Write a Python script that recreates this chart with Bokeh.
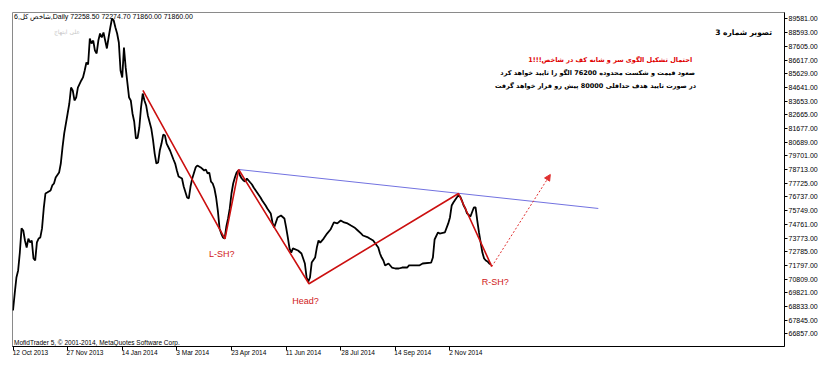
from bokeh.plotting import figure
from bokeh.models import Range1d, FixedTicker, PrintfTickFormatter, Label, Arrow, NormalHead, LinearAxis
from bokeh.embed import file_html
from bokeh.resources import INLINE

# ---- data (bar index = trading day since 12 Oct 2013) ----
bars = [0, 1, 2, 3, 4, 5, 6, 7, 8, 9, 10, 11, 12, 13, 14, 15, 16, 17, 18, 19, 20, 22, 23, 24, 25, 27, 28, 29, 30,
        32, 33, 34, 35, 36, 37, 38, 40, 41, 42, 43, 44, 45, 46, 47, 48, 49, 50, 51, 52, 53, 54, 55, 56, 57, 58, 59,
        60, 61, 62, 63, 64, 65, 66, 67, 68, 69, 70, 71, 72, 73, 74, 75, 76, 77, 78, 79, 81, 82, 83, 84, 85, 86, 87,
        88, 89, 90, 92, 94, 95, 96, 97, 99, 100, 102, 103, 104, 105, 107, 108, 110, 112, 113, 114, 115, 116, 117,
        118, 119, 120, 121, 122, 123, 124, 125, 126, 127, 128, 129, 130, 131, 132, 133, 134, 135, 136, 137, 139,
        140, 141, 143, 145, 146, 148, 149, 151, 152, 153, 154, 155, 157, 159, 160, 161, 162, 163, 164, 167, 169,
        170, 171, 172, 173, 174, 175, 177, 178, 179, 180, 182, 184, 186, 188, 190, 192, 194, 196, 198, 200, 202,
        204, 205, 208, 209, 211, 214, 215, 216, 217, 218, 220, 222, 224, 226, 228, 231, 232, 235, 238, 240, 245,
        246, 247, 249, 250, 253, 255, 256, 257, 258, 260, 261, 262, 263, 264, 265, 266, 268, 270, 271, 272, 273,
        274, 275, 276, 277, 278, 279, 280]
closes = [68550, 69780, 70930, 71440, 72730, 74470, 74320, 73600, 73090, 73740, 73460, 73600, 72300, 72160, 73460,
          73740, 73820, 74470, 75910, 76990, 77060, 77210, 77570, 77710, 78140, 78500, 79150, 80310, 81320,
          82760, 83480, 84630, 84420, 83700, 83910, 84630, 85140, 85360, 85860, 86440, 86290, 88170, 87810, 88020,
          87300, 87090, 88020, 88530, 88240, 88600, 88020, 87450, 88240, 88960, 89610, 89470,
          88960, 88530, 87880, 85860, 85360, 87520, 86080, 84990, 83910, 83700, 82760, 82180, 80960, 81000, 81750,
          83190, 84200, 83700, 83340, 82620, 81680, 80880, 79870, 79150, 79220, 80090, 80590,
          81240, 81170, 80590, 80090, 79440, 79150, 78650, 78210, 78070, 77490, 76700, 76630, 77490, 78070, 78870,
          79010, 78870, 78650, 78720, 78430, 78500, 77850, 77710,
          77350, 76700, 75760, 74470, 74100, 73820, 73740, 74610, 75190, 75910, 76990, 77710, 78140, 78500, 78650,
          78290, 78070, 77930, 77850, 78070, 77780,
          77640, 77420, 77060, 76700, 76480, 76120, 75910, 75550, 74900, 74540, 74900, 75260, 75400, 75190, 74540,
          73820, 73030, 72730, 73030, 72880, 72660,
          72300, 71940, 70930, 70640, 70930, 72010, 72370, 73090, 73600, 73450, 73740, 74100, 74390, 74900, 74830,
          75040, 74900, 74830, 74680, 74540, 74320,
          74100, 73960, 73820, 73740, 73600, 73090, 72660, 72370, 72160, 71800, 71940, 71650, 71580, 71580, 71650,
          71650, 71800, 71800, 71800, 71940, 72010,
          72370, 73670, 74180, 74100, 74180, 74830, 75260, 76120, 76340, 76700, 76850, 76770, 76480, 76120, 75910,
          75550, 75330, 75980, 75980, 75040, 74180,
          73450, 72730, 72300, 72160, 72090, 71940, 71860]

date_tick_bars = [0, 32, 64, 96, 128, 160, 192, 224, 256]
date_tick_labels = ["12 Oct 2013", "27 Nov 2013", "14 Jan 2014", "3 Mar 2014", "23 Apr 2014",
                    "11 Jun 2014", "28 Jul 2014", "14 Sep 2014", "2 Nov 2014"]
price_ticks = [66857, 67845, 68833, 69821, 70809, 71797, 72785, 73773, 74761, 75749, 76737, 77725,
               78713, 79701, 80689, 81677, 82665, 83653, 84641, 85629, 86617, 87605, 88593, 89581]

# head & shoulders drawing (red), neckline (blue), projected move (dotted red)
pattern_bars = [76.1, 124.2, 132.2, 173.4, 261.0, 280.5]
pattern_prices = [84420, 73720, 78720, 70480, 76990, 71720]
neck_bars = [132.2, 342.9]
neck_prices = [78720, 75910]
target_bars = [280.5, 314.8]
target_prices = [71720, 78360]

shape_labels = ["L-SH?", "Head?", "R-SH?"]
shape_label_bars = [122.3, 171.4, 282.6]
shape_label_prices = [72660, 69200, 70570]

header = "شاخص کل,6,Daily  72258.50 72274.70 71860.00 71860.00"
signature = "علی ابتهاج"
title_fa = "تصویر شماره 3"
note_red = "احتمال تشکیل الگوی سر و شانه کف در شاخص!!!1"
note_1 = "صعود قیمت و شکست محدوده 76200 الگو را تایید خواهد کرد"
note_2 = "در صورت تایید هدف حداقلی 80000 پیش رو قرار خواهد گرفت"
copyright_txt = "MofidTrader 5, © 2001-2014, MetaQuotes Software Corp."

# ---- figure ----
p = figure(width=820, height=367, output_backend="svg", toolbar_location=None,
           x_range=Range1d(-0.3, 452.0), y_range=Range1d(65954, 90043),
           x_axis_location=None, y_axis_location="right",
           min_border_left=12, min_border_top=12, min_border_right=35, min_border_bottom=21)
p.background_fill_color = "white"
p.border_fill_color = "white"
p.outline_line_color = "#8a8a8a"
p.grid.visible = False

# date axis: tick marks at the bar positions, labels starting at each tick
tick_axis = LinearAxis(ticker=FixedTicker(ticks=date_tick_bars),
                       major_label_overrides={b: "" for b in date_tick_bars},
                       major_label_text_font_size="1px", major_label_standoff=0,
                       major_tick_out=4, major_tick_in=0, minor_tick_line_color=None,
                       axis_line_color="black", major_tick_line_color="black")
p.add_layout(tick_axis, "below")
label_pos = [round(b + len(t) * 0.93, 1) for b, t in zip(date_tick_bars, date_tick_labels)]
label_axis = LinearAxis(ticker=FixedTicker(ticks=label_pos),
                        major_label_overrides={c: t for c, t in zip(label_pos, date_tick_labels)},
                        major_label_text_font="Liberation Sans", major_label_text_font_size="6.5px",
                        major_label_text_color="black", major_label_standoff=-2,
                        major_tick_line_color=None, minor_tick_line_color=None, axis_line_color=None,
                        major_tick_out=0, major_tick_in=0)
p.add_layout(label_axis, "below")

ya = p.yaxis[0]
ya.ticker = FixedTicker(ticks=price_ticks)
ya.formatter = PrintfTickFormatter(format="%.2f")
ya.major_label_text_font = "Liberation Sans"
ya.major_label_text_font_size = "7px"
ya.major_label_text_color = "black"
ya.major_label_standoff = 1
ya.major_tick_out = 3
ya.major_tick_in = 0
ya.minor_tick_line_color = None
ya.axis_line_color = "black"
ya.major_tick_line_color = "black"

p.line(bars, closes, line_color="black", line_width=1.8)
p.line(neck_bars, neck_prices, line_color="#7272e0", line_width=1)
p.line(pattern_bars, pattern_prices, line_color="#cc1010", line_width=1.6)
p.add_layout(Arrow(end=NormalHead(size=6, fill_color="#e03030", line_color="#e03030"),
                   x_start=target_bars[0], y_start=target_prices[0],
                   x_end=target_bars[1], y_end=target_prices[1],
                   line_color="#e03030", line_width=1, line_dash="2 2"))

for t, bx, py in zip(shape_labels, shape_label_bars, shape_label_prices):
    p.add_layout(Label(x=bx, y=py, text=t, text_align="center", text_baseline="middle",
                       text_color="#d02020", text_font="Liberation Sans", text_font_size="9px"))

p.add_layout(Label(x=0.6, y=89790, text=header, text_align="left", text_baseline="middle",
                   text_color="black", text_font="Liberation Sans", text_font_size="7px"))
p.add_layout(Label(x=31.6, y=88672, text=signature, text_align="center", text_baseline="middle",
                   text_color="#c8c8c8", text_font="DejaVu Sans", text_font_size="6px"))
p.add_layout(Label(x=0.6, y=66207, text=copyright_txt, text_align="left", text_baseline="middle",
                   text_color="black", text_font="Liberation Sans", text_font_size="6.5px"))

p.add_layout(Label(x=444.7, y=88600, text=title_fa, text_align="right", text_baseline="middle",
                   text_color="black", text_font="DejaVu Sans", text_font_size="7.5px",
                   text_font_style="bold"))
p.add_layout(Label(x=397.9, y=86653, text=note_red, text_align="right", text_baseline="middle",
                   text_color="#e00000", text_font="DejaVu Sans", text_font_size="6.5px",
                   text_font_style="bold"))
p.add_layout(Label(x=399.6, y=85680, text=note_1, text_align="right", text_baseline="middle",
                   text_color="black", text_font="DejaVu Sans", text_font_size="6.5px",
                   text_font_style="bold"))
p.add_layout(Label(x=400.2, y=84706, text=note_2, text_align="right", text_baseline="middle",
                   text_color="black", text_font="DejaVu Sans", text_font_size="6.5px",
                   text_font_style="bold"))

open("out.html", "w").write(file_html(p, INLINE))
